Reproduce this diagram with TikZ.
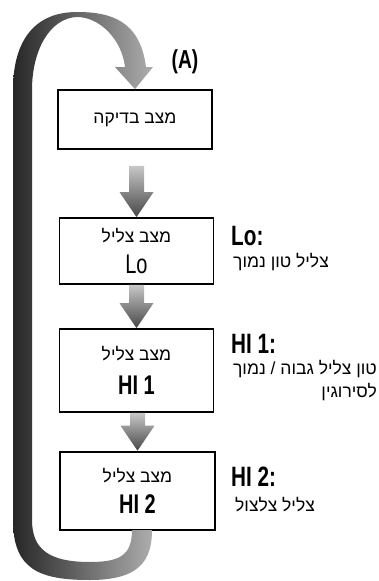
\documentclass[tikz,border=0pt]{standalone}
\usepackage{fontspec}
\setmainfont{Liberation Sans}
\newfontfamily\hebfont[Script=Hebrew]{Liberation Sans}
\newfontfamily\condfont[FakeStretch=0.74]{Liberation Sans}
\TeXXeTstate=1
\usepackage{tikz}
\usetikzlibrary{calc}
\newcommand\heb[1]{{\hebfont\beginR #1\endR}}
\newcommand\bigmode[1]{{\condfont\fontsize{27}{27}\selectfont #1}}
% shaded arrow from below one box down to the next
\newcommand\flowarrow[3]{
  \path[flowshade] ($(#1.south -| #2.north)+(-7.5,-#3)$) -- ($(#2.north)+(-7.5,25)$)
    -- ($(#2.north)+(-17,25)$) -- (#2.north) -- ($(#2.north)+(17,25)$)
    -- ($(#2.north)+(7.5,25)$) -- ($(#1.south -| #2.north)+(7.5,-#3)$) -- cycle;
}

\begin{document}
\begin{tikzpicture}[
  x=1pt, y=1pt,
  statebox/.style={
    draw, line width=1.8pt, minimum width=154pt,
    align=center, inner sep=0pt, font=\fontsize{17.5}{31}\selectfont
  },
  flowshade/.style={top color=black!22, bottom color=black!72},
  loopshade/.style={left color=black!85, right color=black!32},
  modelabel/.style={font=\condfont\bfseries\fontsize{28}{28}\selectfont, anchor=west, inner sep=0pt},
  modetext/.style={font=\fontsize{17.5}{23}\selectfont, inner sep=0pt}
]
  \useasboundingbox (0,0) rectangle (378,-581);

  % states
  \node[statebox, minimum height=59pt] (test) at (135,-119.5) {\heb{מצב בדיקה}};
  \node[statebox, minimum height=66pt] (lo) at (136.5,-251)
    {\heb{מצב צליל}\\\bigmode{Lo}};
  \node[statebox, minimum height=83pt] (hione) at (136.5,-370.5)
    {\heb{מצב צליל}\\[3pt]\bigmode{\bfseries HI 1}};
  \node[statebox, minimum height=78pt, minimum width=155pt, line width=2.6pt] (hitwo) at (137.5,-491)
    {\heb{מצב צליל}\\\bigmode{\bfseries HI 2}};

  \flowarrow{test}{lo}{16}
  \flowarrow{lo}{hione}{0}
  \flowarrow{hione}{hitwo}{0}

  % loop back to the test state
  \path[loopshade] (115,-67) -- (test.north) -- (153,-67) -- (146,-67)
    .. controls (140,-20) and (110,-12) .. (77,-12)
    .. controls (35,-12) and (13,-40) .. (13,-90) -- (13,-520)
    .. controls (13,-570) and (40,-580) .. (90,-580)
    .. controls (140,-580) and (152,-560) .. (152,-530) -- (132,-530)
    .. controls (132,-555) and (120,-562) .. (90,-562)
    .. controls (50,-562) and (32,-550) .. (32,-520) -- (32,-90)
    .. controls (32,-50) and (50,-18) .. (77,-17)
    .. controls (100,-17) and (122,-40) .. (125,-67) -- cycle;

  \node[font=\condfont\bfseries\fontsize{26}{26}\selectfont] (a) at (185,-62) {(A)};

  % descriptions
  \node[modelabel] (lolabel) at (231,-236) {Lo:};
  \node[modetext, anchor=west] (lotext) at (233,-262) {\heb{צליל טון נמוך}};
  \node[modelabel] (hionelabel) at (231,-344) {HI 1:};
  \node[modetext, anchor=east, align=right] (hionetext) at (377,-381)
    {\heb{טון צליל גבוה / נמוך}\\\heb{לסירוגין}};
  \node[modelabel] (hitwolabel) at (231,-477) {HI 2:};
  \node[modetext, anchor=west] (hitwotext) at (235,-505) {\heb{צליל צלצול}};
\end{tikzpicture}
\end{document}
